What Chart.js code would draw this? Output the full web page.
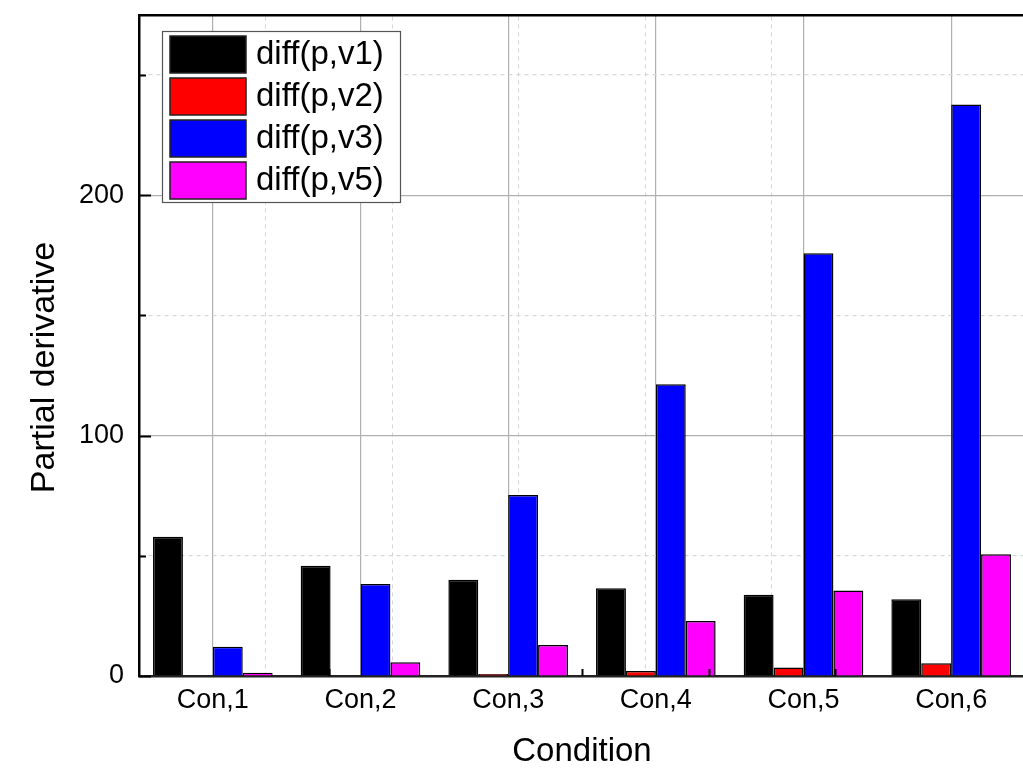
<!DOCTYPE html>
<html>
<head>
<meta charset="utf-8">
<script src="https://cdn.jsdelivr.net/npm/chart.js@4"></script>
<style>
    html, body { margin: 0; padding: 0; background: #fff; overflow: hidden; }
    #wrap { width: 1030px; height: 771px; position: relative; }
</style>
</head>
<body>
<div id="wrap"><canvas id="deriv-chart"></canvas></div>
<script>
// Values
const conditions = ['Con,1', 'Con,2', 'Con,3', 'Con,4', 'Con,5', 'Con,6'];
const diffV1 = [57.9, 45.9, 40.0, 36.5, 33.8, 31.9];
const diffV2 = [0, 0, 0.8, 2.1, 3.5, 5.3];
const diffV3 = [12.2, 38.3, 75.3, 121.4, 175.9, 237.8];
const diffV5 = [1.4, 5.7, 12.9, 22.9, 35.6, 50.7];
const seriesLabels = ['diff(p,v1)', 'diff(p,v2)', 'diff(p,v3)', 'diff(p,v5)'];
const seriesColors = ['#000000', '#ff0000', '#0000ff', '#ff00ff'];
const yTicks = [0, 50, 100, 150, 200, 250];
const yMax = 275;

const FONT = '"Liberation Sans", Arial, sans-serif';
const majorGrid = '#b0b0b0';
const minorGrid = '#d6d6d6';

// Inward ticks, rotated y title and the boxed legend inside the plot
const extras = {
    id: 'extras',
    afterDraw(chart) {
        const { ctx, chartArea: a, scales } = chart;
        ctx.save();
        ctx.strokeStyle = '#000';
        ctx.lineWidth = 2;
        yTicks.forEach(v => {
            const y = Math.round(scales.y.getPixelForValue(v)) + 0.5;
            const len = v % 100 === 0 ? 12 : 7;
            ctx.beginPath();
            ctx.moveTo(a.left, y);
            ctx.lineTo(a.left + len, y);
            ctx.stroke();
        });
        for (let i = 1; i < conditions.length; i++) {
            const x = Math.round(scales.x2.getPixelForValue(i)) + 0.5;
            ctx.beginPath();
            ctx.moveTo(x, a.bottom);
            ctx.lineTo(x, a.bottom - 7);
            ctx.stroke();
        }

        // y title
        ctx.fillStyle = '#000';
        ctx.font = '34px ' + FONT;
        ctx.textAlign = 'center';
        ctx.textBaseline = 'middle';
        ctx.translate(45, (a.top + a.bottom) / 2 + 22);
        ctx.rotate(-Math.PI / 2);
        ctx.fillText('Partial derivative', 0, 0);
        ctx.restore();

        // legend
        ctx.save();
        const bx = 162, by = 31, bw = 238, bh = 171;
        ctx.fillStyle = '#fff';
        ctx.fillRect(bx, by, bw, bh);
        ctx.strokeStyle = '#555';
        ctx.lineWidth = 1.2;
        ctx.strokeRect(bx + 0.5, by + 0.5, bw, bh);
        ctx.font = '33px ' + FONT;
        ctx.textAlign = 'left';
        ctx.textBaseline = 'middle';
        chart.data.datasets.forEach((ds, i) => {
            const sy = 36 + i * 42;
            ctx.fillStyle = ds.backgroundColor;
            ctx.fillRect(170, sy, 76, 37);
            ctx.strokeStyle = '#222';
            ctx.lineWidth = 1.5;
            ctx.strokeRect(170, sy, 76, 37);
            ctx.fillStyle = '#000';
            ctx.fillText(ds.label, 256, sy + 19);
        });
        ctx.restore();
    },
};

const datasets = [diffV1, diffV2, diffV3, diffV5].map((vals, i) => ({
    label: seriesLabels[i],
    data: vals,
    backgroundColor: seriesColors[i],
    borderColor: '#000',
    borderWidth: 1.5,
    categoryPercentage: 0.81,
    barPercentage: 1.0,
}));

new Chart(document.getElementById('deriv-chart').getContext('2d'), {
    type: 'bar',
    data: { labels: conditions, datasets: datasets },
    plugins: [extras],
    options: {
        responsive: true,
        maintainAspectRatio: false,
        animation: false,
        layout: { padding: { left: 0, top: 15, right: 5, bottom: 0 } },
        plugins: {
            legend: { display: false },
            tooltip: { enabled: false },
        },
        scales: {
            x: {
                type: 'category',
                position: 'bottom',
                grid: { offset: false, color: majorGrid, lineWidth: 1.2, drawTicks: false },
                border: { color: '#222', width: 2.5 },
                ticks: { color: '#000', font: { family: FONT, size: 27 }, padding: 8, maxRotation: 0 },
                title: { display: true, text: 'Condition', color: '#000', font: { family: FONT, size: 33 }, padding: { top: 0, bottom: -1 } },
                afterFit: (s) => { s.height = 95; s.paddingLeft = 0; s.paddingRight = 0; },
            },
            x2: {
                type: 'linear',
                position: 'top',
                min: 0,
                max: conditions.length,
                ticks: { display: false, stepSize: 1 },
                grid: {
                    drawTicks: false,
                    lineWidth: 1,
                    color: (c) => (!c.tick || c.tick.value === 0 || c.tick.value === conditions.length) ? 'rgba(0,0,0,0)' : minorGrid,
                },
                border: { color: '#000', width: 2.5, dash: [4, 4] },
                afterFit: (s) => { s.height = 0; s.paddingLeft = 0; s.paddingRight = 0; },
            },
            y: {
                min: 0,
                max: yMax,
                afterBuildTicks: (axis) => { axis.ticks = yTicks.map(v => ({ value: v })); },
                ticks: {
                    color: '#000',
                    font: { family: FONT, size: 27 },
                    padding: 15,
                    callback: (v) => v % 100 === 0 ? v : '',
                },
                grid: {
                    drawTicks: false,
                    lineWidth: 1.2,
                    color: (c) => {
                        if (!c.tick || c.tick.value === 0) return 'rgba(0,0,0,0)';
                        return c.tick.value % 100 === 0 ? majorGrid : minorGrid;
                    },
                },
                border: {
                    color: '#000',
                    width: 2.5,
                    dash: (c) => (c.tick && c.tick.value % 100 !== 0) ? [4, 4] : [],
                },
                afterFit: (s) => { s.width = 139; s.paddingTop = 0; s.paddingBottom = 0; },
            },
        },
    },
});
</script>
</body>
</html>
